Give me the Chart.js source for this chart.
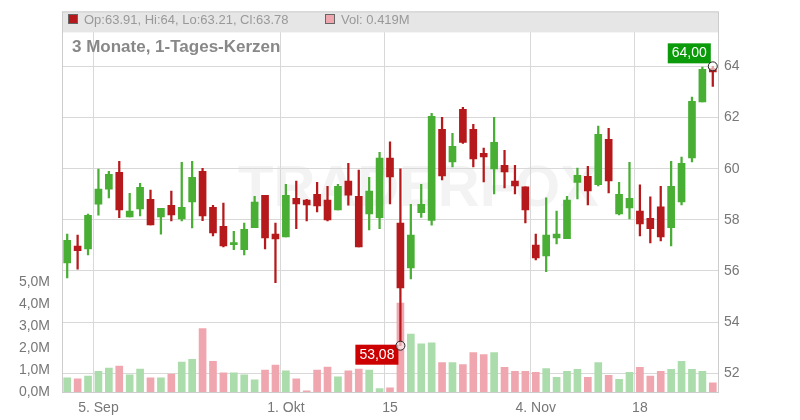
<!DOCTYPE html>
<html><head><meta charset="utf-8">
<script src="https://cdn.jsdelivr.net/npm/chart.js@4/dist/chart.umd.min.js"></script>
<style>html,body{margin:0;padding:0;background:#fff}#w{width:800px;height:420px}</style>
</head><body><div id="w"><canvas id="c"></canvas></div>
<script>
const dates = ["2.9","3.9","4.9","5.9","6.9","9.9","10.9","11.9","12.9","13.9","16.9","17.9","18.9","19.9","20.9","23.9","24.9","25.9","26.9","27.9","30.9","1.10","2.10","3.10","4.10","7.10","8.10","9.10","10.10","11.10","14.10","15.10","16.10","17.10","18.10","21.10","22.10","23.10","24.10","25.10","28.10","29.10","30.10","31.10","1.11","4.11","5.11","6.11","7.11","8.11","11.11","12.11","13.11","14.11","15.11","18.11","19.11","20.11","21.11","22.11","25.11","26.11","27.11"];
const tickLabels = {3:"5. Sep",21:"1. Okt",31:"15",45:"4. Nov",55:"18"};
const open  = [56.32,56.97,56.86,58.61,59.20,59.86,58.11,58.43,58.80,58.11,58.57,58.04,58.70,59.90,58.49,57.75,57.03,56.83,57.69,58.96,57.44,57.33,58.84,58.77,59.00,58.77,58.39,59.51,58.92,58.23,58.08,60.41,57.87,56.12,58.28,57.98,61.54,60.26,62.32,61.54,60.60,59.99,60.13,59.51,59.29,57.01,56.59,57.29,57.26,59.46,59.70,59.37,61.15,58.23,58.47,58.34,58.06,58.51,57.69,58.70,60.42,62.61,63.91];
const high  = [57.44,57.40,58.22,59.98,59.90,60.29,59.04,59.43,59.16,58.45,59.12,60.25,60.29,60.01,58.57,58.65,57.55,57.87,58.92,58.96,57.87,59.39,59.51,58.80,59.47,59.31,59.39,60.21,59.94,59.66,60.64,61.05,59.99,58.61,59.39,62.16,62.01,61.38,62.40,61.73,60.80,62.01,60.72,60.13,59.29,57.44,58.86,58.34,58.92,60.02,60.09,61.66,61.58,59.47,60.25,59.37,58.90,59.31,60.29,60.45,62.80,63.97,64.00];
const low   = [55.73,56.07,56.63,58.18,58.86,58.08,58.11,58.15,57.80,57.44,57.96,57.96,57.68,57.97,57.37,56.94,56.83,56.63,57.69,56.86,55.54,57.33,57.65,57.96,58.31,57.96,58.39,58.57,56.94,57.61,57.65,58.62,53.08,55.69,58.09,57.79,59.56,60.07,60.99,60.07,59.48,59.01,59.25,59.01,57.88,56.43,55.97,57.06,57.26,58.82,58.58,59.33,59.05,58.19,58.04,57.37,57.10,57.18,56.98,58.58,60.26,62.61,63.21];
const close = [57.20,56.79,58.18,59.20,59.78,58.39,58.34,59.27,57.80,58.45,58.19,58.49,59.66,58.15,57.49,56.98,57.06,57.63,58.69,57.29,57.25,58.96,58.62,58.58,58.54,58.00,59.31,58.96,56.94,59.12,60.41,59.68,55.34,57.40,58.61,62.05,59.72,60.87,61.03,60.38,60.46,61.03,59.87,59.33,58.39,56.51,57.40,57.44,58.77,59.74,59.13,61.34,59.52,59.00,58.84,57.84,57.65,57.33,59.31,60.21,62.63,63.88,63.78];
const volume = [0.64,0.60,0.73,0.94,1.09,1.18,0.78,1.04,0.64,0.64,0.82,1.36,1.49,2.88,1.40,0.87,0.87,0.78,0.55,1.00,1.22,0.96,0.60,0.05,1.00,1.13,0.69,0.96,1.04,1.00,0.15,0.19,4.04,2.64,2.19,2.24,1.34,1.34,1.25,1.79,1.70,1.79,1.12,0.94,0.94,0.90,1.07,0.67,0.94,1.03,0.67,1.34,0.76,0.58,0.90,1.12,0.72,0.94,1.03,1.39,1.03,0.94,0.419];
const priceTicks = [52,54,56,58,60,62,64];
const volTicks = [0,1,2,3,4,5];

const GREEN="#48ae34", RED="#b5191b", VG="#abdcab", VR="#f0a6af";
const up = open.map((o,i)=>close[i]>=o);
const fmt = v => v.toFixed(2).replace('.',',');

const overlay = {
  id:'overlay',
  beforeDatasetsDraw(ch){
    const c=ch.ctx;
    c.save();
    c.font='bold 58px Arial, "Liberation Sans"'; c.fillStyle='rgba(215,215,215,0.3)';
    c.textBaseline='middle'; c.fillText('TRADERFOX',238,190);
    c.restore();
  },
  afterDraw(ch){
    const c=ch.ctx, a=ch.chartArea, x=ch.scales.x, y=ch.scales.y;
    c.save();
    c.fillStyle='#e6e6e6'; c.fillRect(a.left,a.top-3,a.right-a.left,21);
    c.fillStyle=RED; c.fillRect(68,14,10,10); c.strokeStyle='#666'; c.strokeRect(68.5,14.5,9,9);
    c.fillStyle=VR; c.fillRect(325,14,10,10); c.strokeRect(325.5,14.5,9,9);
    c.font='13px Arial, "Liberation Sans"'; c.fillStyle='#999'; c.textBaseline='middle';
    c.fillText('Op:63.91, Hi:64, Lo:63.21, Cl:63.78',84,20);
    c.fillText('Vol: 0.419M',341,20);
    c.font='bold 17px Arial, "Liberation Sans"'; c.fillStyle='#888';
    c.fillText('3 Monate, 1-Tages-Kerzen',72,47);
    c.strokeStyle='#ccc'; c.lineWidth=1; c.strokeRect(a.left+0.5,a.top-2.5,a.right-a.left,a.bottom-a.top+3);
    const marks=[[62,high[62],'#0a9a0a',-1],[32,low[32],'#cc0000',1]];
    c.font='14px Arial, "Liberation Sans"';
    marks.forEach(([i,v,col,dir])=>{
      const px=x.getPixelForValue(i), py=y.getPixelForValue(v);
      const t=fmt(v), w=c.measureText(t).width+8;
      const bx=px-w-2, by=dir<0?py-23:py-1;
      c.fillStyle=col; c.fillRect(bx,by,w,20);
      c.fillStyle='#fff'; c.textAlign='left'; c.fillText(t,bx+4,by+10);
      c.beginPath(); c.arc(px,py,4.5,0,Math.PI*2); c.fillStyle='rgba(255,255,255,0.6)'; c.fill();
      c.strokeStyle='#222'; c.lineWidth=1; c.stroke();
    });
    c.restore();
  }
};

new Chart(document.getElementById('c'),{
  type:'bar',
  data:{labels:dates,datasets:[
    {data:volume,yAxisID:'v',backgroundColor:up.map(u=>u?VG:VR),barThickness:7,order:3},
    {data:low.map((l,i)=>[l,high[i]]),yAxisID:'y',backgroundColor:up.map(u=>u?GREEN:RED),barThickness:1.6,order:2},
    {data:open.map((o,i)=>[o,close[i]]),yAxisID:'y',backgroundColor:up.map(u=>u?GREEN:RED),barThickness:7,minBarLength:2,order:1}
  ]},
  options:{
    responsive:true,maintainAspectRatio:false,animation:false,
    layout:{padding:{top:7,left:0,right:0,bottom:0}},
    plugins:{legend:{display:false},tooltip:{enabled:false}},
    datasets:{bar:{grouped:false}},
    scales:{
      x:{offset:true,grid:{color:ctx=>tickLabels[ctx.index]!==undefined?'#d8d8d8':'rgba(0,0,0,0)',drawTicks:false},border:{display:false},
         ticks:{autoSkip:false,maxRotation:0,color:'#777',font:{size:14,family:'Arial'},padding:8,callback:(v,i)=>tickLabels[i]||''},
         afterFit:s=>{s.height=28;}},
      y:{position:'right',min:51.27,max:66.03,grid:{color:'#d8d8d8',drawTicks:false},border:{display:false},
         afterBuildTicks:s=>{s.ticks=priceTicks.map(v=>({value:v}));},
         ticks:{color:'#777',font:{size:14,family:'Arial'},padding:6,callback:v=>v},
         afterFit:s=>{s.width=82;}},
      v:{position:'left',min:0,max:17.18,grid:{display:false},border:{display:false},
         afterBuildTicks:s=>{s.ticks=volTicks.map(v=>({value:v}));},
         ticks:{color:'#777',font:{size:14,family:'Arial'},padding:4,callback:v=>v.toFixed(1).replace('.',',')+'M'},
         afterFit:s=>{s.width=62;}}
    }
  },
  plugins:[overlay]
});
</script></body></html>
